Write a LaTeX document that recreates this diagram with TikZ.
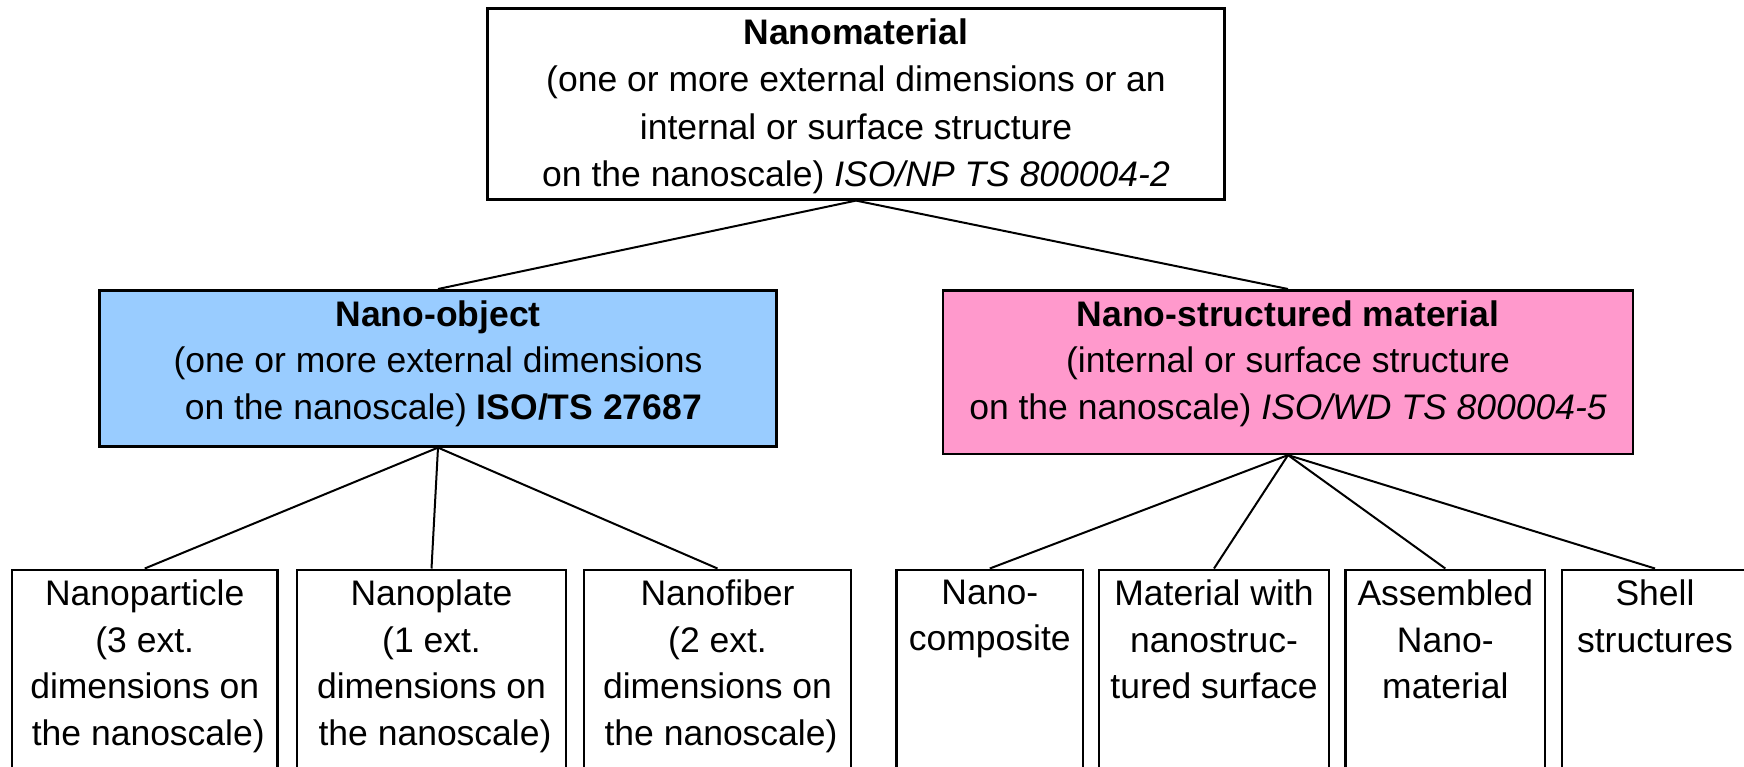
\documentclass[tikz,border=0pt]{standalone}
\usepackage{fontspec}
\setmainfont{Liberation Sans}
\definecolor{objblue}{RGB}{153,204,255}
\definecolor{structpink}{RGB}{255,153,204}
\tikzset{
  box/.style={draw=black, line width=1.3pt, rectangle, inner sep=0pt, anchor=north},
  leafbox/.style={box, minimum height=130pt},
  boxtext/.style={font=\fontsize{17.75}{23.25}\selectfont, align=center, inner sep=0pt, anchor=north},
  toptext/.style={boxtext, font=\fontsize{17.75}{23.8}\selectfont},
  link/.style={line width=1pt},
}
\begin{document}
\begin{tikzpicture}[x=0.5pt,y=-0.5pt]
\useasboundingbox (0,0) rectangle (1744,766);
\clip (0,0) rectangle (1744,766);

% upper levels
\node[box, minimum width=368.75pt, minimum height=95.5pt] (nanomat) at (856,7) {};
\node[box, fill=objblue, minimum width=338.25pt, minimum height=78pt] (nanoobj) at (438,289) {};
\node[box, fill=structpink, minimum width=345pt, minimum height=81.75pt] (nanostruct) at (1288,289) {};

% leaves (running off the lower edge)
\node[leafbox, minimum width=132.75pt] (particle) at (144.75,568.5) {};
\node[leafbox, minimum width=134.5pt] (plate) at (431.5,568.5) {};
\node[leafbox, minimum width=133.5pt] (fiber) at (717.5,568.5) {};
\node[leafbox, minimum width=93.25pt] (composite) at (989.75,568.5) {};
\node[leafbox, minimum width=115pt] (surface) at (1214,568.5) {};
\node[leafbox, minimum width=99.7pt] (assembled) at (1445.3,568.5) {};
\node[leafbox, minimum width=93pt] (shell) at (1655,568.5) {};

% texts
\node[toptext] (nanomat-t) at ([yshift=-5.5pt]nanomat.north)
  {\textbf{Nanomaterial}\\(one or more external dimensions or an\\internal or surface structure\\on the nanoscale) \textit{ISO/NP TS 800004-2}};
\node[boxtext] (nanoobj-t) at ([yshift=-5.5pt]nanoobj.north)
  {\textbf{Nano-object}\\(one or more external dimensions\\\hspace*{0.3em}on the nanoscale) \textbf{ISO/TS 27687}};
\node[boxtext] (nanostruct-t) at ([yshift=-5.5pt]nanostruct.north)
  {\textbf{Nano-structured material}\\(internal or surface structure\\on the nanoscale) \textit{ISO/WD TS 800004-5}};

\node[boxtext] (particle-t) at ([yshift=-5.5pt]particle.north) {Nanoparticle\\(3 ext.\\dimensions on\\\hspace*{0.2em}the nanoscale)};
\node[boxtext] (plate-t) at ([yshift=-5.5pt]plate.north) {Nanoplate\\(1 ext.\\dimensions on\\\hspace*{0.2em}the nanoscale)};
\node[boxtext] (fiber-t) at ([yshift=-5.5pt]fiber.north) {Nanofiber\\(2 ext.\\dimensions on\\\hspace*{0.2em}the nanoscale)};
\node[boxtext] (composite-t) at ([yshift=-5.5pt]composite.north) {Nano-\\composite};
\node[boxtext] (surface-t) at ([yshift=-5.5pt]surface.north) {Material with\\nanostruc-\\tured surface};
\node[boxtext] (assembled-t) at ([yshift=-5.5pt]assembled.north) {Assembled\\Nano-\\material};
\node[boxtext] (shell-t) at ([yshift=-5.5pt]shell.north) {Shell\\structures};

% connectors
\draw[link] (nanomat.south) -- (nanoobj.north);
\draw[link] (nanomat.south) -- (nanostruct.north);
\draw[link] (nanoobj.south) -- (particle.north);
\draw[link] (nanoobj.south) -- (plate.north);
\draw[link] (nanoobj.south) -- (fiber.north);
\draw[link] (nanostruct.south) -- (composite.north);
\draw[link] (nanostruct.south) -- (surface.north);
\draw[link] (nanostruct.south) -- (assembled.north);
\draw[link] (nanostruct.south) -- (shell.north);
\end{tikzpicture}
\end{document}
